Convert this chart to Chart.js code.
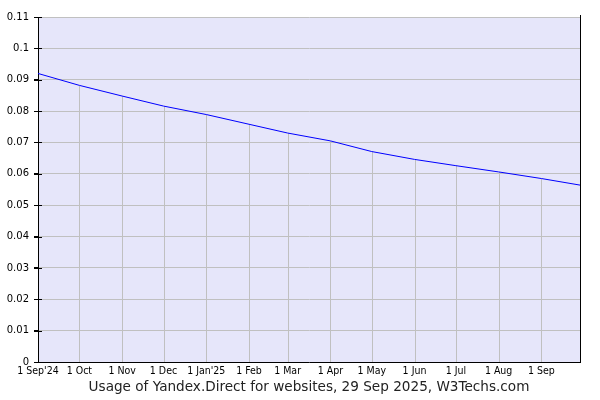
<!DOCTYPE html>
<html>
<head>
<meta charset="utf-8">
<script src="https://cdn.jsdelivr.net/npm/chart.js@4/dist/chart.umd.min.js"></script>
<style>
html,body{margin:0;padding:0;background:#fff;}
canvas{display:block;}
</style>
</head>
<body>
<canvas id="c" width="600" height="400"></canvas>
<script>
// ---- data ----
const dates = ['2024-09-01','2024-10-01','2024-11-01','2024-12-01','2025-01-01','2025-02-01','2025-03-01','2025-04-01','2025-05-01','2025-06-01','2025-07-01','2025-08-01','2025-09-01','2025-09-29'];
const usage = [0.0920,0.0882,0.0848,0.0816,0.0789,0.0758,0.0730,0.0705,0.0671,0.0646,0.0626,0.0606,0.0585,0.0564];
const tickDates = ['2024-09-01','2024-10-01','2024-11-01','2024-12-01','2025-01-01','2025-02-01','2025-03-01','2025-04-01','2025-05-01','2025-06-01','2025-07-01','2025-08-01','2025-09-01'];
const tickLabels = ["1 Sep'24",'1 Oct','1 Nov','1 Dec',"1 Jan'25",'1 Feb','1 Mar','1 Apr','1 May','1 Jun','1 Jul','1 Aug','1 Sep'];
const yTicks = [0,0.01,0.02,0.03,0.04,0.05,0.06,0.07,0.08,0.09,0.1,0.11];
const startDate = '2024-09-01';
const endDate = '2025-09-29';
const titleText = 'Usage of Yandex.Direct for websites, 29 Sep 2025, W3Techs.com';

const DAY = 86400000;
const toDay = s => (Date.parse(s + 'T00:00:00Z') - Date.parse(startDate + 'T00:00:00Z')) / DAY;
const points = dates.map((d, i) => ({x: toDay(d), y: usage[i]}));
const tickDays = tickDates.map(toDay);

const decor = {
  id: 'decor',
  beforeDraw(chart) {
    const {ctx, chartArea: a} = chart;
    ctx.save();
    ctx.fillStyle = '#e6e6fa';
    ctx.fillRect(a.left, a.top, a.right - a.left, a.bottom - a.top);
    ctx.restore();
  },
  beforeDatasetsDraw(chart) {
    const {ctx, chartArea: a} = chart;
    const meta = chart.getDatasetMeta(0);
    ctx.save();
    ctx.strokeStyle = '#c0c0c0';
    ctx.lineWidth = 1;
    meta.data.forEach((el, i) => {
      const xv = points[i].x;
      if (xv > 0 && tickDays.includes(xv)) {
        const x = Math.round(el.x) + 0.5;
        ctx.beginPath();
        ctx.moveTo(x, el.y);
        ctx.lineTo(x, a.bottom);
        ctx.stroke();
      }
    });
    ctx.restore();
  },
  afterDatasetsDraw(chart) {
    const {ctx, chartArea: a, scales} = chart;
    ctx.save();
    ctx.strokeStyle = '#000';
    ctx.lineWidth = 1;
    ctx.beginPath();
    const rx = Math.round(a.right) + 0.5;
    ctx.moveTo(rx, a.top - 2);
    ctx.lineTo(rx, a.bottom);
    ctx.stroke();
    yTicks.forEach(v => {
      const y = Math.round(scales.y.getPixelForValue(v)) + 0.5;
      ctx.beginPath();
      ctx.moveTo(a.left - 4, y);
      ctx.lineTo(a.left + 4, y);
      ctx.stroke();
    });
    ctx.restore();
  }
};

new Chart(document.getElementById('c'), {
  type: 'line',
  data: {
    datasets: [{
      data: points,
      borderColor: '#0000ff',
      borderWidth: 1,
      pointRadius: 0,
      tension: 0,
      fill: false
    }]
  },
  options: {
    responsive: false,
    animation: false,
    layout: {padding: {top: 17, right: 20, bottom: 4, left: 0}},
    plugins: {legend: {display: false}, tooltip: {enabled: false}},
    scales: {
      x: {
        type: 'linear',
        min: 0,
        max: toDay(endDate),
        afterBuildTicks: s => { s.ticks = tickDays.map(v => ({value: v})); },
        afterFit: s => { s.height = 34; },
        grid: {display: false, drawTicks: false},
        border: {display: true, color: '#000', width: 1},
        ticks: {
          autoSkip: false,
          maxRotation: 0,
          padding: 3,
          color: '#000',
          font: {family: "'DejaVu Sans Condensed', 'Liberation Sans', sans-serif", size: 10.5},
          callback: (v) => { const i = tickDays.indexOf(v); return i >= 0 ? tickLabels[i] : ''; }
        },
        title: {
          display: true,
          text: titleText,
          color: '#222',
          padding: {top: 0, bottom: 0},
          font: {family: "'DejaVu Sans', sans-serif", size: 13.6}
        }
      },
      y: {
        min: 0,
        max: 0.11,
        afterBuildTicks: s => { s.ticks = yTicks.map(v => ({value: v})); },
        afterFit: s => { s.width = 38; },
        grid: {color: '#c0c0c0', lineWidth: 1, drawTicks: true, tickLength: 4, tickColor: '#000'},
        border: {display: true, color: '#000', width: 1},
        ticks: {
          padding: 5,
          color: '#000',
          font: {family: "'DejaVu Sans', sans-serif", size: 10},
          callback: v => String(Number(v.toFixed(2)))
        }
      }
    }
  },
  plugins: [decor]
});
</script>
</body>
</html>
